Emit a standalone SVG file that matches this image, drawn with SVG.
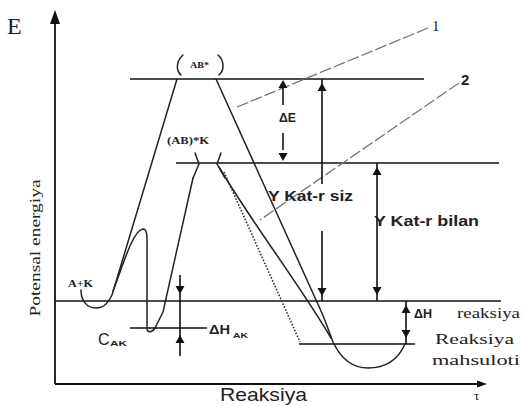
<svg xmlns="http://www.w3.org/2000/svg" xmlns:xlink="http://www.w3.org/1999/xlink" width="524" height="406" viewBox="0 0 524 406">
<style>
.ax{stroke:#111;stroke-width:1.8;fill:none}
.ln{stroke:#111;stroke-width:1.6;fill:none}
.cv{stroke:#222;stroke-width:1.5;fill:none;stroke-linecap:round;stroke-linejoin:round}
.dot{stroke:#333;stroke-width:1.6;fill:none;stroke-dasharray:1.6 1.6}
.lead{stroke:#777;stroke-width:1.3;fill:none;stroke-dasharray:12 3}
.ah{fill:#111;stroke:none}
.sans{font-family:"Liberation Sans",Arial,sans-serif;fill:#222}
.serif{font-family:"Liberation Serif","Times New Roman",serif;fill:#222}
.b{font-weight:bold}
</style>
<defs>
<path id="up" d="M0,0 L4.5,8 L-4.5,8 Z"/>
<path id="down" d="M0,0 L4.5,-8 L-4.5,-8 Z"/>
</defs>
<rect width="524" height="406" fill="#fff"/>

<g id="axes">
<line class="ax" x1="55" y1="20" x2="55" y2="384"/>
<path class="ah" d="M55,10 L60,24 L50,24 Z"/>
<line class="ax" x1="55" y1="384" x2="480" y2="384"/>
<path class="ah" d="M487,384 L477,380.5 L477,387.5 Z"/>
<text class="serif" x="7" y="34" font-size="24">E</text>
<text class="serif" x="474" y="400" font-size="13">τ</text>
<text class="serif" transform="translate(40,248) rotate(-90)" text-anchor="middle" font-size="14" textLength="137" lengthAdjust="spacingAndGlyphs">Potensal energiya</text>
<text class="sans" x="220" y="401" font-size="19" textLength="87" lengthAdjust="spacingAndGlyphs">Reaksiya</text>
</g>

<g id="levels">
<line class="ln" x1="130" y1="79" x2="424" y2="79"/>
<line class="ln" x1="176" y1="163" x2="499" y2="163"/>
<line class="ln" x1="55" y1="301" x2="501" y2="301"/>
<line class="ln" x1="130" y1="328" x2="207" y2="328"/>
<line class="ln" x1="299" y1="344" x2="415" y2="344"/>
</g>

<g id="curve-1">
<path class="cv" d="M81,290 C81,301 87,308 96,308 C104,308 108,303 112,295 L177,79"/>
<path class="cv" d="M216,79 L321,311 C326,322 329,332 333,342 C341,359 353,368 368,368 C385,368 398,360 405,344"/>
<path class="cv" d="M183,55 C177,60 175,70 181,75"/>
<path class="cv" d="M218,55 C224,60 225,70 219,75"/>
<text class="serif b" x="190" y="68" font-size="8.5" textLength="19" lengthAdjust="spacingAndGlyphs">AB*</text>
</g>

<g id="curve-2">
<path class="cv" d="M113,291 C123,265 133,230 143,229 C148,229 147,240 147,250 L147,328 C147,333 152,333 155,328 L163,312 L193,178"/>
<path class="cv" d="M193,178 L199,164 L195,153"/>
<path class="cv" d="M225,178 L217,164 L221,153"/>
<path class="cv" d="M219,167 C250,220 300,285 331,338"/>
<path class="dot" d="M224,172 L300,342"/>
<text class="serif b" x="167" y="144" font-size="10" textLength="42" lengthAdjust="spacingAndGlyphs">(AB)*K</text>
<text class="serif b" x="68" y="287" font-size="9.5" textLength="25" lengthAdjust="spacingAndGlyphs">A+K</text>
<text class="sans" x="98" y="345" font-size="16">C</text>
<text class="sans b" x="110" y="346" font-size="8" textLength="17" lengthAdjust="spacingAndGlyphs">AK</text>
</g>

<g id="leaders">
<path class="lead" d="M428,28 L237,107"/>
<path class="lead" d="M459,83 L260,220"/>
<text class="serif" x="432" y="31" font-size="15">1</text>
<text class="sans b" x="461" y="85" font-size="15">2</text>
</g>

<g id="dim-E">
<line class="ln" x1="283" y1="88" x2="283" y2="105"/>
<use xlink:href="#up" class="ah" x="283" y="80"/>
<line class="ln" x1="283" y1="133" x2="283" y2="150"/>
<use xlink:href="#down" class="ah" x="283" y="161"/>
<text class="sans b" x="279" y="122" font-size="13" textLength="17" lengthAdjust="spacingAndGlyphs">ΔE</text>
</g>

<g id="dim-siz">
<line class="ln" x1="322" y1="79" x2="322" y2="184"/>
<line class="ln" x1="322" y1="231" x2="322" y2="301"/>
<use xlink:href="#up" class="ah" x="322" y="83"/>
<use xlink:href="#down" class="ah" x="322" y="296"/>
<text class="sans b" x="268" y="201" font-size="15" textLength="85" lengthAdjust="spacingAndGlyphs">Y Kat-r siz</text>
</g>

<g id="dim-bilan">
<line class="ln" x1="377" y1="163" x2="377" y2="301"/>
<use xlink:href="#up" class="ah" x="377" y="167"/>
<use xlink:href="#down" class="ah" x="377" y="295"/>
<text class="sans b" x="374" y="226" font-size="14" textLength="105" lengthAdjust="spacingAndGlyphs">Y Kat-r bilan</text>
</g>

<g id="dim-HAK">
<line class="ln" x1="180" y1="275" x2="180" y2="356"/>
<use xlink:href="#down" class="ah" x="180" y="294"/>
<use xlink:href="#up" class="ah" x="180" y="335"/>
<text class="sans b" x="209" y="334" font-size="13" textLength="21" lengthAdjust="spacingAndGlyphs">ΔH</text>
<text class="sans b" x="233" y="338" font-size="7" textLength="15" lengthAdjust="spacingAndGlyphs">AK</text>
</g>

<g id="dim-Hr">
<line class="ln" x1="406" y1="301" x2="406" y2="344"/>
<use xlink:href="#up" class="ah" x="406" y="305"/>
<use xlink:href="#down" class="ah" x="406" y="338"/>
<text class="sans b" x="414" y="318" font-size="13" textLength="18" lengthAdjust="spacingAndGlyphs">ΔH</text>
<text class="serif" x="457" y="318" font-size="14" textLength="63" lengthAdjust="spacingAndGlyphs">reaksiya</text>
<text class="serif" x="435" y="344" font-size="15" textLength="79" lengthAdjust="spacingAndGlyphs">Reaksiya</text>
<text class="serif" x="432" y="365" font-size="15" textLength="88" lengthAdjust="spacingAndGlyphs">mahsuloti</text>
</g>
</svg>
